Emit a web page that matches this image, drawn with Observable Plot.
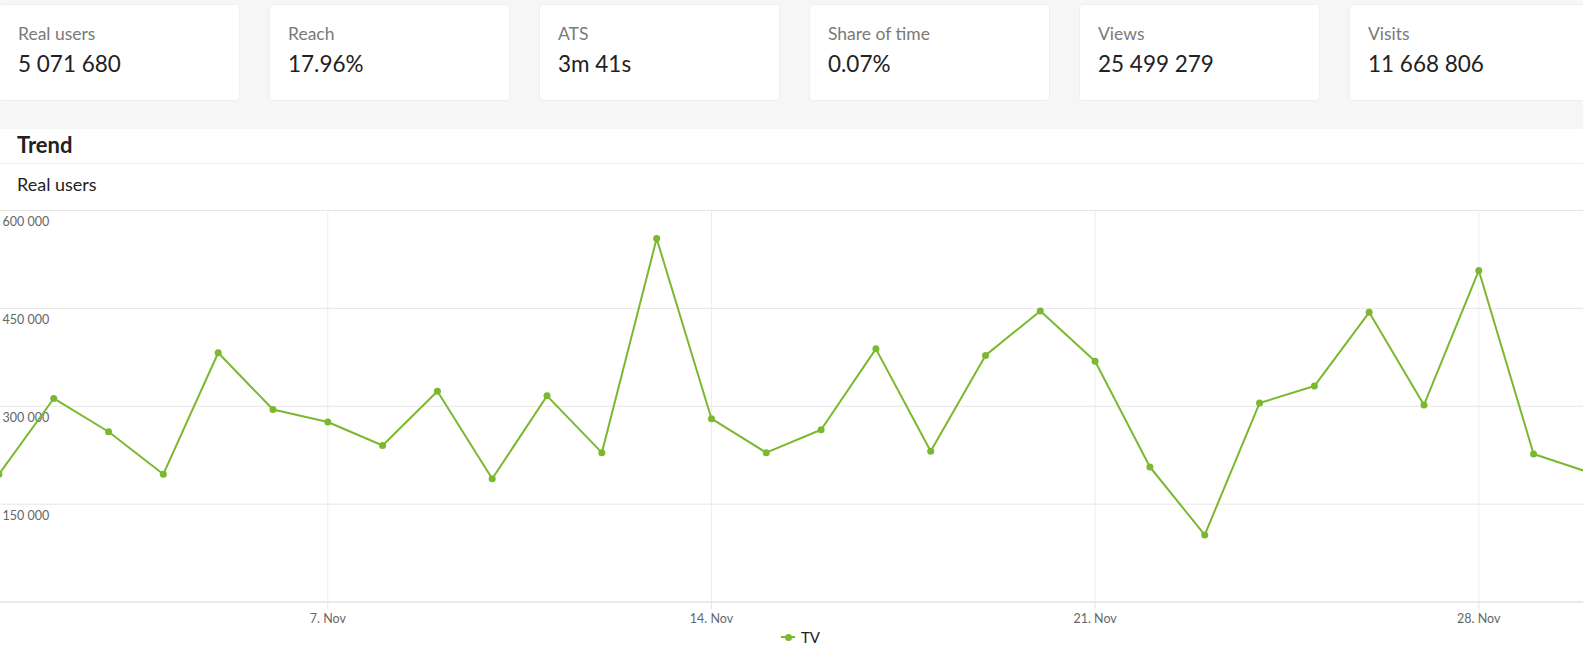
<!DOCTYPE html>
<html>
<head>
<meta charset="utf-8">
<script src="https://cdn.jsdelivr.net/npm/d3@7"></script>
<script src="https://cdn.jsdelivr.net/npm/@observablehq/plot@0.6"></script>
<style>
  html, body { margin: 0; padding: 0; width: 1583px; height: 659px; overflow: hidden; background: #fff; font-family: Lato, "Open Sans", sans-serif; }
  #band { position: absolute; left: 0; top: 0; width: 1583px; height: 129px; background: #f6f6f6; }
  .card { position: absolute; top: 4px; width: 241px; height: 97px; box-sizing: border-box; background: #fff; border: 1px solid #efefef; border-radius: 4px; padding: 18.7px 0 0 18px; }
  .card .lab { font-size: 17.5px; line-height: 20px; color: #7a7a7a; }
  .card .val { font-size: 22.5px; line-height: 30px; color: #222; margin-top: 4.9px; }
  #trend { position: absolute; left: 0; top: 129px; width: 1583px; height: 35px; box-sizing: border-box; border-bottom: 1px solid #ececec; padding-left: 17px; font-size: 22px; font-weight: bold; line-height: 31.6px; color: #222; }
  #sub { position: absolute; left: 0; top: 164px; width: 1583px; height: 47px; box-sizing: border-box; border-bottom: 1px solid #ececec; padding-left: 17px; font-size: 18px; line-height: 40.7px; color: #222; }
  #chart { position: absolute; left: 0; top: 210px; width: 1583px; }
  #legend { position: absolute; left: 781px; top: 626px; height: 22px; line-height: 22px; font-size: 15px; color: #222; display: flex; align-items: center; }
  #legend .sym { position: relative; width: 14px; height: 22px; margin-right: 6px; }
  #legend .sym::before { content: ""; position: absolute; left: 0; top: 10px; width: 14px; height: 2px; background: #7cb82f; }
  #legend .sym::after { content: ""; position: absolute; left: 3.5px; top: 7.5px; width: 7px; height: 7px; border-radius: 50%; background: #7cb82f; }
</style>
</head>
<body>
<div id="band"></div>
<div id="cards"></div>
<div id="trend">Trend</div>
<div id="sub">Real users</div>
<div id="chart"></div>
<div id="legend"><span class="sym"></span><span id="legname"></span></div>
<script>
// KPI cards
const kpiLabels = ["Real users", "Reach", "ATS", "Share of time", "Views", "Visits"];
const kpiValues = ["5 071 680", "17.96%", "3m 41s", "0.07%", "25 499 279", "11 668 806"];

// Trend series (TV, real users per day)
const seriesName = "TV";
const dates = [
  "2021-11-01","2021-11-02","2021-11-03","2021-11-04","2021-11-05","2021-11-06",
  "2021-11-07","2021-11-08","2021-11-09","2021-11-10","2021-11-11","2021-11-12",
  "2021-11-13","2021-11-14","2021-11-15","2021-11-16","2021-11-17","2021-11-18",
  "2021-11-19","2021-11-20","2021-11-21","2021-11-22","2021-11-23","2021-11-24",
  "2021-11-25","2021-11-26","2021-11-27","2021-11-28","2021-11-29","2021-11-30"
];
const realUsers = [
  196000, 312000, 261000, 196000, 382000, 295000,
  276000, 240000, 323000, 189000, 316000, 229000,
  557000, 281000, 229000, 264000, 388000, 231000,
  378000, 446000, 369000, 207000, 103000, 305000,
  331000, 444000, 302000, 508000, 227000, 199000
];
const xTicks = ["2021-11-07", "2021-11-14", "2021-11-21", "2021-11-28"];
const yTicks = [150000, 300000, 450000, 600000];

const cards = document.getElementById("cards");
kpiLabels.forEach((lab, i) => {
  const c = document.createElement("div");
  c.className = "card";
  c.style.left = (-1 + i * 270) + "px";
  c.innerHTML = `<div class="lab">${lab}</div><div class="val">${kpiValues[i]}</div>`;
  cards.appendChild(c);
});
document.getElementById("legname").textContent = seriesName;

const data = dates.map((d, i) => ({date: new Date(d), value: realUsers[i]}));
const green = "#7cb82f";
const fmt = d => d3.format(",")(d).replace(/,/g, " ");

const chart = Plot.plot({
  width: 1583,
  height: 416,
  marginLeft: 0,
  marginRight: 0,
  marginTop: 0,
  marginBottom: 24.4,
  style: {fontFamily: "Lato, sans-serif", background: "transparent", overflow: "visible"},
  x: {type: "utc", domain: [new Date(dates[0]), new Date(dates[dates.length - 1])], range: [-1.56, 1587.9], label: null},
  y: {domain: [0, 600000], range: [391.6, 0], label: null},
  marks: [
    Plot.gridX(xTicks.map(d => new Date(d)), {stroke: "#eceef1", strokeOpacity: 1}),
    Plot.gridY(yTicks, {stroke: "#e6e6e6", strokeOpacity: 1}),
    Plot.ruleY([0], {stroke: "#e3e3e3", strokeWidth: 1.5}),
    Plot.axisX(xTicks.map(d => new Date(d)), {tickSize: 8, tickPadding: 4, stroke: "#e6e6e6", fill: "#666", fontSize: 12.5, tickFormat: d3.utcFormat("%-d. %b")}),
    Plot.axisY(yTicks, {anchor: "left", tickSize: 0, tickPadding: 0, dx: 2, dy: 11.6, textAnchor: "start", fill: "#666", fontSize: 12.5, tickFormat: fmt}),
    Plot.line(data, {x: "date", y: "value", stroke: green, strokeWidth: 2, clip: true}),
    Plot.dot(data, {x: "date", y: "value", r: 3.5, fill: green, clip: true})
  ]
});
document.getElementById("chart").appendChild(chart);
</script>
</body>
</html>
